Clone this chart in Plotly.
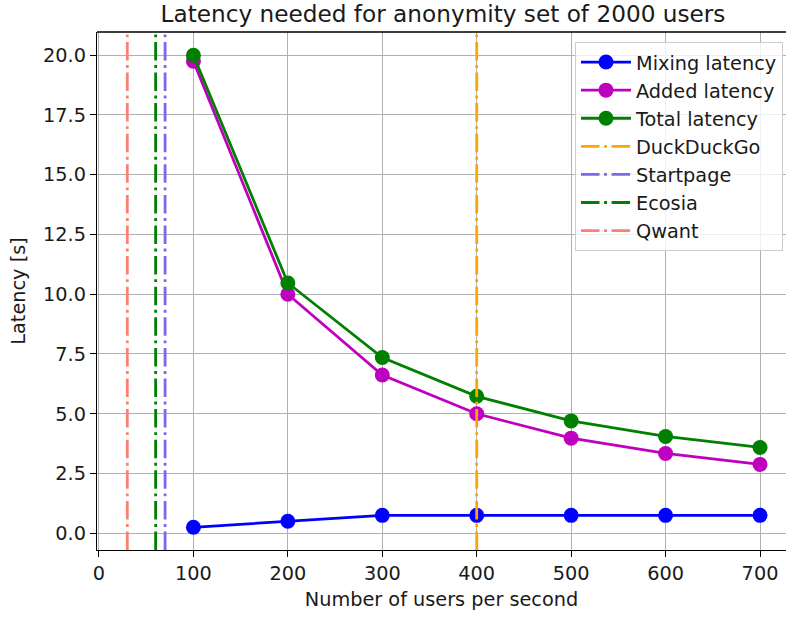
import plotly.graph_objects as go

users_per_second = [100, 200, 300, 400, 500, 600, 700]
mixing_latency = [0.25, 0.5, 0.75, 0.75, 0.75, 0.75, 0.75]
added_latency = [19.75, 10.0, 6.62, 5.0, 3.98, 3.34, 2.88]
total_latency = [20.0, 10.47, 7.35, 5.73, 4.70, 4.05, 3.59]

engine_names = ["DuckDuckGo", "Startpage", "Ecosia", "Qwant"]
engine_rates = [400, 70, 60, 30]
engine_colors = ["#ffa500", "#7b68ee", "#008000", "#fa8072"]

y_ticks = [0, 2.5, 5, 7.5, 10, 12.5, 15, 17.5, 20]
x_ticks = [0, 100, 200, 300, 400, 500, 600, 700]

FONT = "DejaVu Sans"
FS = 19.3
TXT = "#1a1a1a"
fig = go.Figure()

series = [("Mixing latency", mixing_latency, "#0000ff"),
          ("Added latency", added_latency, "#bf00bf"),
          ("Total latency", total_latency, "#008000")]
for i, (name, vals, col) in enumerate(series):
    fig.add_trace(go.Scatter(
        x=users_per_second, y=vals, mode="lines+markers", name=name,
        line=dict(color=col, width=2.8), marker=dict(color=col, size=15),
        legendgroup=f"g{i}"))

for j, (name, rate, col) in enumerate(zip(engine_names, engine_rates, engine_colors)):
    fig.add_trace(go.Scatter(
        x=[rate, rate], y=[0, 1], yaxis="y2", mode="lines", name=name,
        line=dict(color=col, width=2.8, dash="18.5px,4.6px,2.9px,4.6px"),
        legendgroup=f"v{j}"))

# top spine
fig.add_shape(type="line", xref="paper", yref="paper", x0=0, x1=1, y0=1, y1=1,
              line=dict(color="black", width=1.3))

fig.update_layout(
    width=786, height=617,
    margin=dict(l=97, r=0, t=32, b=67),
    paper_bgcolor="white", plot_bgcolor="white",
    font=dict(family=FONT, size=FS, color=TXT),
    title=dict(text="Latency needed for anonymity set of 2000 users",
               font=dict(family=FONT, size=23.2, color=TXT),
               xref="container", yref="container", x=0.5636, y=1 - 14 / 617,
               xanchor="center", yanchor="middle"),
    xaxis=dict(range=[-2.1, 727.5], tickvals=x_ticks, showgrid=True,
               gridcolor="#b0b0b0", gridwidth=1.3, zeroline=False,
               showline=True, linecolor="black", linewidth=1.3,
               ticks="outside", ticklen=6, tickwidth=1.3, tickcolor="black",
               tickfont=dict(size=FS),
               title=dict(text="Number of users per second", standoff=8,
                          font=dict(size=FS))),
    yaxis=dict(range=[-0.70, 20.97], tickvals=y_ticks, tickformat=".1f",
               showgrid=True, gridcolor="#b0b0b0", gridwidth=1.3, zeroline=False,
               showline=True, linecolor="black", linewidth=1.3,
               ticks="outside", ticklen=6, tickwidth=1.3, tickcolor="black",
               tickfont=dict(size=FS),
               title=dict(text="Latency [s]", standoff=12, font=dict(size=FS))),
    yaxis2=dict(range=[0, 1], overlaying="y", visible=False),
    legend=dict(x=(783 - 97) / 689, y=1 - 10 / 518, xanchor="right", yanchor="top",
                bgcolor="rgba(255,255,255,0.8)", bordercolor="#cccccc", borderwidth=1,
                font=dict(family=FONT, size=FS, color=TXT),
                tracegroupgap=5, traceorder="normal", itemwidth=50),
    showlegend=True,
)

fig.write_html("out.html")
